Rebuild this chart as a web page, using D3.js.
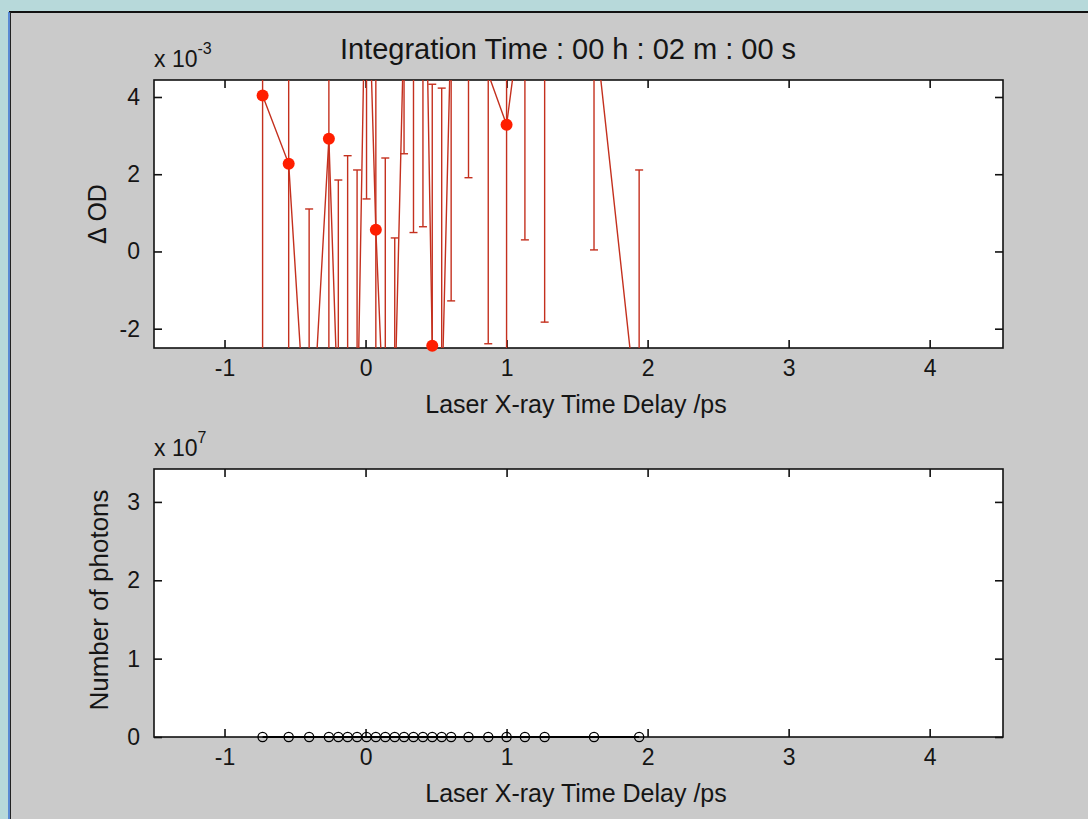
<!DOCTYPE html>
<html>
<head>
<meta charset="utf-8">
<script src="https://cdn.jsdelivr.net/npm/d3@7"></script>
<style>
  html, body { margin: 0; padding: 0; background: #b7d9da; }
  svg { display: block; }
  text { font-family: "Liberation Sans", Arial, Helvetica, sans-serif; fill: #151515; }
</style>
</head>
<body>
<svg id="fig" width="1088" height="819"></svg>
<script>
// Laser / X-ray delay scan (ps)
const delays = [-0.73, -0.545, -0.40, -0.26, -0.193, -0.127, -0.06, 0.007, 0.073, 0.14,
                0.207, 0.273, 0.34, 0.407, 0.473, 0.54, 0.607, 0.73, 0.87, 1.0,
                1.13, 1.27, 1.62, 1.94];
// Differential optical density, in units of 1e-3
const deltaOD = [4.04, 2.27, -6.2, 2.92, -4.4, -3.5, -5.0, 9.0, 0.56, -5.3,
                 -4.0, 6.0, 7.0, 11.7, -2.44, -4.0, 6.0, 5.0, 4.6, 3.28,
                 6.9, 5.0, 6.07, -4.7];
// Error bar half-lengths, in units of 1e-3
const deltaODerr = [7.0, 6.0, 7.3, 6.0, 6.25, 5.98, 7.11, 7.64, 5.0, 7.72,
                    4.35, 3.47, 6.51, 11.06, 6.77, 8.23, 7.28, 3.09, 6.99, 6.5,
                    6.6, 6.83, 6.03, 6.81];
// Photon counts per delay, in units of 1e7
const photons = [0, 0, 0, 0, 0, 0, 0, 0, 0, 0,
                 0, 0, 0, 0, 0, 0, 0, 0, 0, 0,
                 0, 0, 0, 0];

const xTicks = [-1, 0, 1, 2, 3, 4];
const odTicks = [-2, 0, 2, 4];
const photonTicks = [0, 1, 2, 3];

const titleText = "Integration Time : 00 h : 02 m : 00 s";
const xLabelText = "Laser X-ray Time Delay /ps";

const svg = d3.select("#fig");

// figure window: gray panel with dark frame
svg.append("rect").attr("x", 10).attr("y", 12).attr("width", 1078).attr("height", 807)
   .attr("fill", "#cacaca");
svg.append("line").attr("x1", 9).attr("x2", 1088).attr("y1", 12).attr("y2", 12)
   .attr("stroke", "#111").attr("stroke-width", 2);
svg.append("line").attr("x1", 9).attr("x2", 9).attr("y1", 12).attr("y2", 819)
   .attr("stroke", "#3a6fd0").attr("stroke-width", 1.5);
svg.append("line").attr("x1", 10.5).attr("x2", 10.5).attr("y1", 12).attr("y2", 819)
   .attr("stroke", "#222").attr("stroke-width", 1);

const L = 154, R = 1003;
const x = d3.scaleLinear().domain([-1.5, 4.52]).range([L, R]);
const plainNum = d => String(d);   // ASCII hyphen for negatives

function panel(y0, y1, yDomain, yTicks, id) {
  const y = d3.scaleLinear().domain(yDomain).range([y1, y0]);
  const g = svg.append("g");
  g.append("rect").attr("x", L).attr("y", y0).attr("width", R - L).attr("height", y1 - y0)
   .attr("fill", "#fff");
  svg.append("clipPath").attr("id", id).append("rect")
     .attr("x", L).attr("y", y0).attr("width", R - L).attr("height", y1 - y0);

  const tl = 8;
  const axB = g.append("g").attr("transform", `translate(0,${y1})`)
    .call(d3.axisBottom(x).tickValues(xTicks).tickSize(-tl).tickPadding(12).tickFormat(plainNum));
  const axT = g.append("g").attr("transform", `translate(0,${y0})`)
    .call(d3.axisTop(x).tickValues(xTicks).tickSize(-tl).tickFormat(""));
  const axL = g.append("g").attr("transform", `translate(${L},0)`)
    .call(d3.axisLeft(y).tickValues(yTicks).tickSize(-tl).tickPadding(14).tickFormat(plainNum));
  const axR = g.append("g").attr("transform", `translate(${R},0)`)
    .call(d3.axisRight(y).tickValues(yTicks).tickSize(-tl).tickFormat(""));
  [axB, axT, axL, axR].forEach(a => {
    a.select(".domain").remove();
    a.selectAll("line").attr("stroke", "#111").attr("stroke-width", 1.6);
    a.selectAll("text").style("font-size", "23px").attr("fill", "#151515")
     .style("font-family", "'Liberation Sans', Arial, sans-serif");
  });
  g.append("rect").attr("x", L).attr("y", y0).attr("width", R - L).attr("height", y1 - y0)
   .attr("fill", "none").attr("stroke", "#111").attr("stroke-width", 1.6);
  return { y, g };
}

// ---- upper panel: ΔOD with error bars ----
const upper = panel(80, 348, [-2.5, 4.44], odTicks, "clipTop");
const pts = delays.map((d, i) => ({ t: d, v: deltaOD[i], e: deltaODerr[i] }));
const yT = upper.y;
const dataTop = svg.append("g").attr("clip-path", "url(#clipTop)");
const red = "#c4301e";

const bars = dataTop.selectAll("g.eb").data(pts).join("g").attr("class", "eb");
bars.append("line")
  .attr("x1", d => x(d.t)).attr("x2", d => x(d.t))
  .attr("y1", d => yT(d.v + d.e)).attr("y2", d => yT(d.v - d.e))
  .attr("stroke", red).attr("stroke-width", 1.4);
bars.append("line")
  .attr("x1", d => x(d.t) - 4).attr("x2", d => x(d.t) + 4)
  .attr("y1", d => yT(d.v + d.e)).attr("y2", d => yT(d.v + d.e))
  .attr("stroke", red).attr("stroke-width", 1.4);
bars.append("line")
  .attr("x1", d => x(d.t) - 4).attr("x2", d => x(d.t) + 4)
  .attr("y1", d => yT(d.v - d.e)).attr("y2", d => yT(d.v - d.e))
  .attr("stroke", red).attr("stroke-width", 1.4);

dataTop.append("path").datum(pts)
  .attr("d", d3.line().x(d => x(d.t)).y(d => yT(d.v)))
  .attr("fill", "none").attr("stroke", red).attr("stroke-width", 1.4);

const [odMin, odMax] = yT.domain();
svg.append("g").selectAll("circle").data(pts.filter(d => d.v >= odMin && d.v <= odMax)).join("circle")
  .attr("cx", d => x(d.t)).attr("cy", d => yT(d.v)).attr("r", 6)
  .attr("fill", "#ff1e00");

// ---- lower panel: photon counts ----
const lower = panel(469, 737, [0, 3.42], photonTicks, "clipBot");
const yB = lower.y;
const bpts = delays.map((d, i) => ({ t: d, v: photons[i] }));
svg.append("path").datum(bpts)
  .attr("d", d3.line().x(d => x(d.t)).y(d => yB(d.v)))
  .attr("fill", "none").attr("stroke", "#000").attr("stroke-width", 2.2);
svg.append("g").selectAll("circle").data(bpts).join("circle")
  .attr("cx", d => x(d.t)).attr("cy", d => yB(d.v)).attr("r", 4.6)
  .attr("fill", "none").attr("stroke", "#000").attr("stroke-width", 1.3);

// ---- text ----
function expLabel(yBase, exp) {
  const t = svg.append("text").attr("x", L).attr("y", yBase).style("font-size", "23px");
  t.append("tspan").text("x 10");
  t.append("tspan").attr("dy", -13).style("font-size", "16px").text(exp);
}
expLabel(67, "-3");
expLabel(456, "7");

svg.append("text").attr("x", 568).attr("y", 59).attr("text-anchor", "middle")
   .style("font-size", "29px").text(titleText);

svg.append("text").attr("x", 576).attr("y", 413).attr("text-anchor", "middle")
   .style("font-size", "25px").text(xLabelText);
svg.append("text").attr("x", 576).attr("y", 802).attr("text-anchor", "middle")
   .style("font-size", "25px").text(xLabelText);

svg.append("text").attr("transform", "translate(106,214) rotate(-90)")
   .attr("text-anchor", "middle").style("font-size", "25px").text("Δ OD");
svg.append("text").attr("transform", "translate(108,600) rotate(-90)")
   .attr("text-anchor", "middle").style("font-size", "26px").text("Number of photons");
</script>
</body>
</html>
